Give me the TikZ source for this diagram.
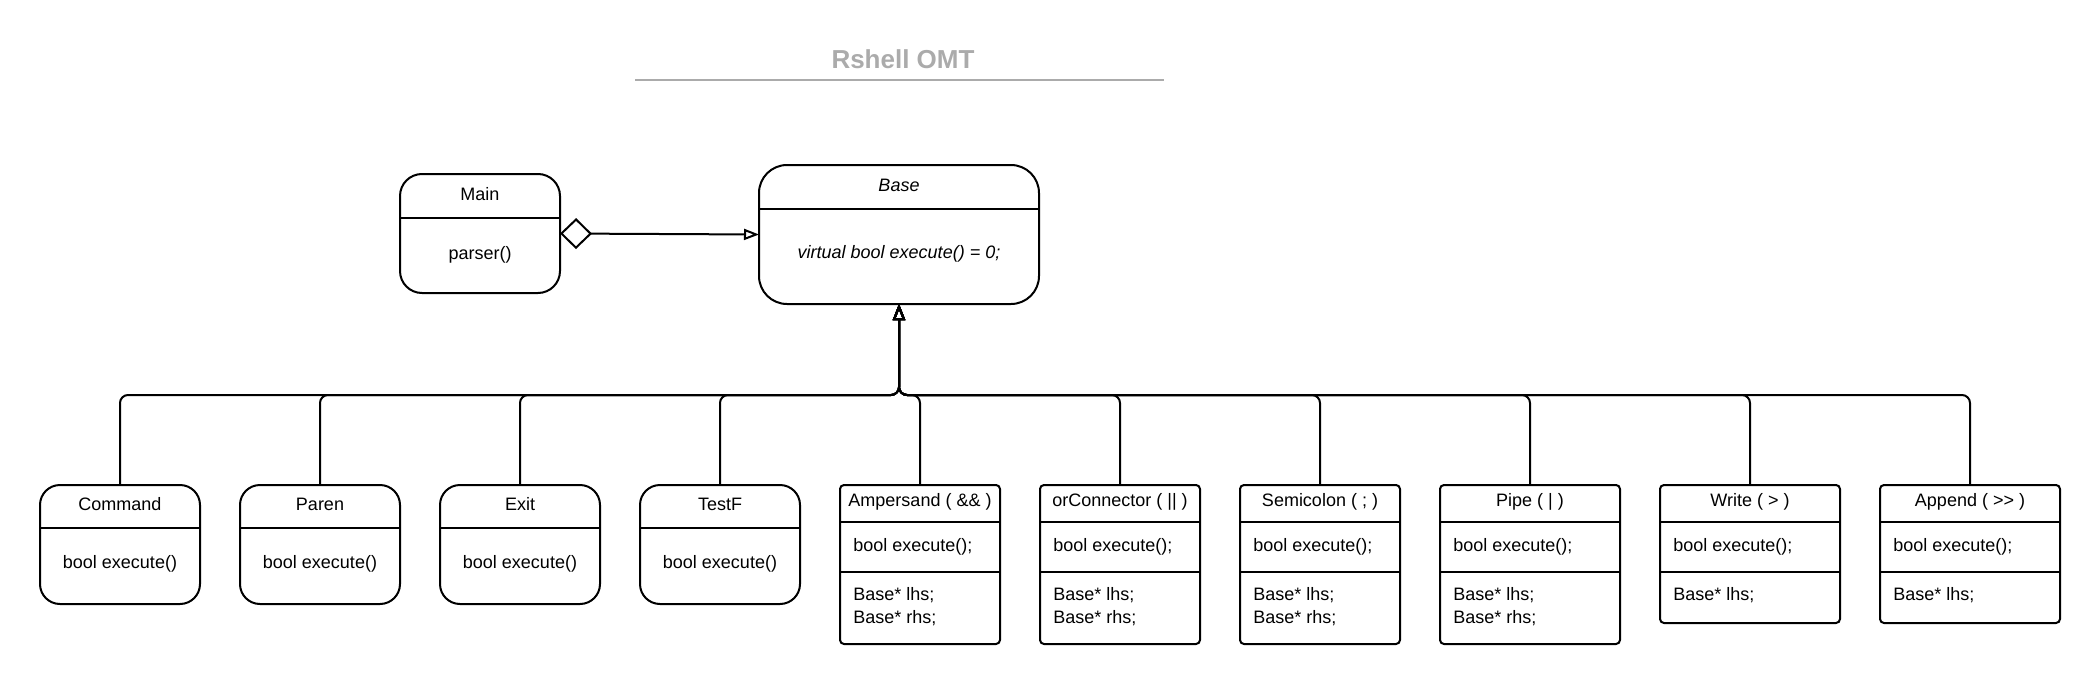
\documentclass[tikz,border=0pt]{standalone}
\usepackage{fontspec}
\setmainfont{Liberation Sans}
\usetikzlibrary{arrows.meta,positioning}
\definecolor{titlegray}{HTML}{ABABAB}
\tikzset{
    umlbox/.style={rectangle,draw,line width=1pt,inner sep=0pt,outer sep=0pt,anchor=north west},
    roundbox/.style={umlbox,rounded corners=10pt,minimum width=80pt,minimum height=59.5pt},
    sharpbox/.style={umlbox,rounded corners=2pt},
    umltext/.style={font=\fontsize{9}{11.5}\selectfont,inner sep=0pt},
    umlleft/.style={umltext,align=left},
    divider/.style={line width=1pt},
    titletext/.style={font=\fontsize{13}{15}\selectfont\bfseries,text=titlegray,inner sep=0pt},
    titleline/.style={draw=titlegray,line width=1pt},
    inherit/.style={line width=1pt,rounded corners=4pt,-{Triangle[open,length=8pt,width=6pt]}},
    aggregate/.style={line width=1pt,{Diamond[open,length=16pt,width=15.5pt]}-{Triangle[open,length=7.5pt,width=5.5pt]}}
}
\begin{document}
\begin{tikzpicture}[x=0.5pt,y=-0.5pt]
    \useasboundingbox (0,0) rectangle (2100,685);
    % title
    \node[titletext] (title) at (903,59) {Rshell OMT};
    \draw[titleline] (635,80) -- (1164,80);
    % main and base
    \node[umlbox,rounded corners=11pt,minimum width=80pt,minimum height=59.5pt] (main) at (400,174) {};
    \node[umltext] (main-name) at (480,194) {Main};
    \node[umltext] (main-op) at (480,255) {parser()};
    \draw[divider] (main.west |- 0,218) -- (main.east |- 0,218);
    \node[umlbox,rounded corners=14pt,minimum width=140pt,minimum height=69.5pt] (base) at (759,165) {};
    \node[umltext,font=\fontsize{9}{11.5}\selectfont\itshape] (base-name) at (899,185) {Base};
    \node[umltext,font=\fontsize{9}{11.5}\selectfont\itshape] (base-op) at (899,254) {virtual bool execute() = 0;};
    \draw[divider] (base.west |- 0,209) -- (base.east |- 0,209);
    \draw[aggregate] (main.east) -- (base.west);
    % leaf classes
    \foreach \n/\x/\t in {command/40/Command,paren/240/Paren,exit/440/Exit,testf/640/TestF}{
        \node[roundbox] (\n) at (\x,485) {};
        \node[umltext] (\n-name) at (\x+80,504) {\t};
        \node[umltext] (\n-op) at (\x+80,564) {bool execute()};
        \draw[divider] (\n.west |- 0,528) -- (\n.east |- 0,528);
    }
    % connector classes
    \foreach \n/\x/\w/\h/\t/\f in {
        ampersand/840/160/159/{Ampersand ( \&\& )}/{Base* lhs;\\Base* rhs;},
        orconn/1040/160/159/{orConnector ( || )}/{Base* lhs;\\Base* rhs;},
        semicolon/1240/160/159/{Semicolon ( ; )}/{Base* lhs;\\Base* rhs;},
        pipe/1440/180/159/{Pipe ( | )}/{Base* lhs;\\Base* rhs;},
        write/1660/180/138/{Write ( > )}/{Base* lhs;},
        append/1880/180/138/{Append ( >{}> )}/{Base* lhs;}}{
        \node[sharpbox,minimum width=\w*0.5pt,minimum height=\h*0.5pt] (\n) at (\x,485) {};
        \node[umltext] (\n-name) at (\x+\w/2,502) {\t};
        \node[umlleft,anchor=west] (\n-op) at (\x+13,547) {bool execute();};
        \node[umlleft,anchor=north west] (\n-attr) at (\x+13,587) {\f};
        \draw[divider] (\n.west |- 0,522) -- (\n.east |- 0,522);
        \draw[divider] (\n.west |- 0,572) -- (\n.east |- 0,572);
    }
    % inheritance
    \coordinate (busjoint) at (base.south |- 0,395);
    \foreach \n in {command,paren,exit,testf,ampersand,orconn,semicolon,pipe,write,append}
        \draw[inherit] (\n.north) |- (busjoint) -- (base.south);
\end{tikzpicture}
\end{document}
